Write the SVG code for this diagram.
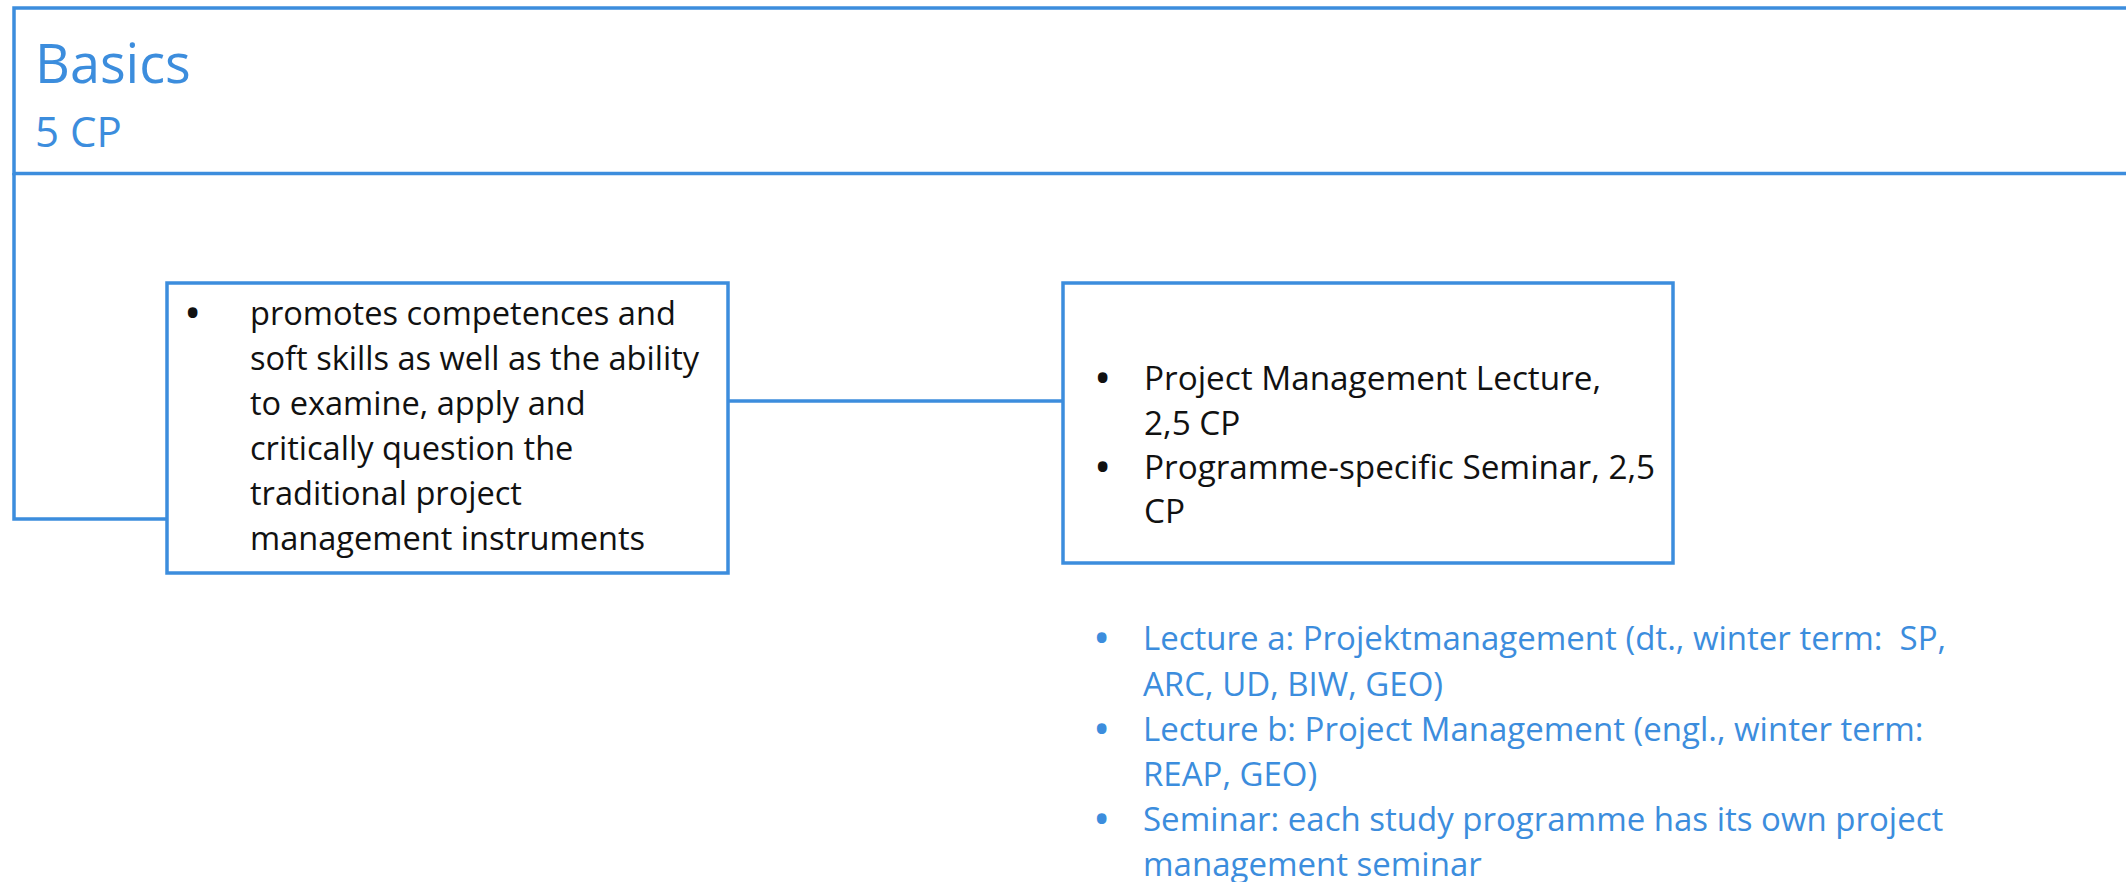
<svg xmlns="http://www.w3.org/2000/svg" width="2126" height="882" viewBox="0 0 2126 882">
<style>
.box{fill:#fff;stroke:#3C8DDD;stroke-width:3.5}
.conn{fill:none;stroke:#3C8DDD;stroke-width:3.5}
.t{font-family:"Open Sans","Noto Sans",sans-serif;fill:#111}
.b{font-family:"Open Sans","Noto Sans",sans-serif;fill:#3C8DDD}
.bul{font-size:46px}
</style>
<rect width="2126" height="882" fill="#fff"/>
<g id="connectors">
<polyline class="conn" points="14,173 14,519 167,519"/>
<line class="conn" x1="728" y1="401" x2="1063" y2="401"/>
</g>
<g id="basics">
<rect class="box" x="14" y="8" width="2130" height="165.5"/>
<text class="b" x="35" y="83" font-size="54">Basics</text>
<text class="b" x="35" y="147" font-size="42">5 CP</text>
</g>
<g id="goals">
<rect class="box" x="167" y="283" width="561" height="290"/>
<g class="t" font-size="32.6">
<text class="bul" x="184" y="329">•</text>
<text x="250" y="325">promotes competences and</text>
<text x="250" y="370">soft skills as well as the ability</text>
<text x="250" y="415">to examine, apply and</text>
<text x="250" y="460">critically question the</text>
<text x="250" y="505">traditional project</text>
<text x="250" y="550">management instruments</text>
</g>
</g>
<g id="courses">
<rect class="box" x="1063" y="283" width="610" height="280"/>
<g class="t" font-size="33.3">
<text class="bul" x="1094" y="394">•</text>
<text x="1144" y="390">Project Management Lecture,</text>
<text x="1144" y="435">2,5 CP</text>
<text class="bul" x="1094" y="483">•</text>
<text x="1144" y="479">Programme-specific Seminar, 2,5</text>
<text x="1144" y="523">CP</text>
</g>
</g>
<g id="details">
<g class="b" font-size="33">
<text class="bul" x="1093" y="654">•</text>
<text x="1143" y="650" xml:space="preserve">Lecture a: Projektmanagement (dt., winter term:  SP,</text>
<text x="1143" y="696">ARC, UD, BIW, GEO)</text>
<text class="bul" x="1093" y="745">•</text>
<text x="1143" y="741">Lecture b: Project Management (engl., winter term:</text>
<text x="1143" y="786">REAP, GEO)</text>
<text class="bul" x="1093" y="835">•</text>
<text x="1143" y="831">Seminar: each study programme has its own project</text>
<text x="1143" y="876">management seminar</text>
</g>
</g>
</svg>
